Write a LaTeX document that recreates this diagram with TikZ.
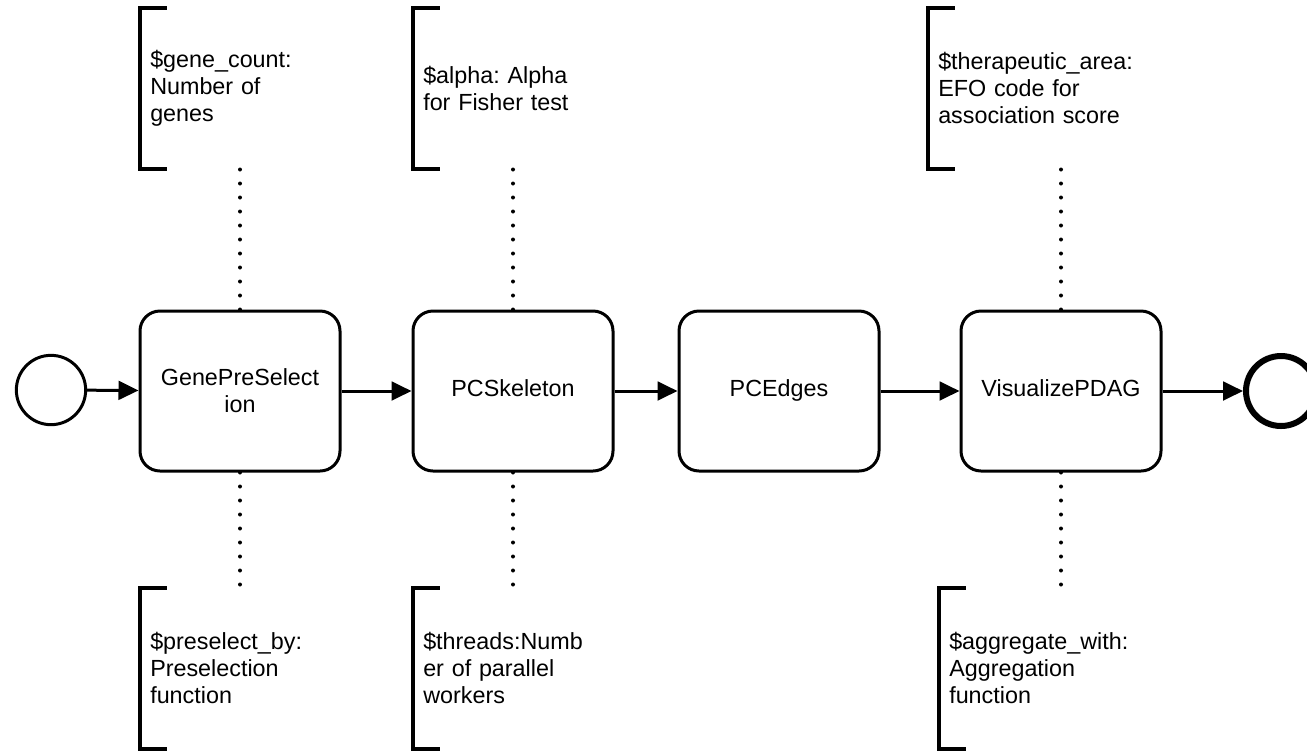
\documentclass[tikz,border=0pt]{standalone}
\usepackage{fontspec}
\setmainfont{Liberation Sans}
\usetikzlibrary{arrows.meta}
\frenchspacing
\begin{document}
\begin{tikzpicture}[x=0.75pt,y=-0.75pt,
  every node/.style={font=\fontsize{17.5}{20.25}\selectfont},
  task/.style={draw,line width=2.25pt,rounded corners=15pt,minimum width=150pt,minimum height=120pt,align=center,inner sep=0pt},
  oneline/.style={text height=12.5pt,text depth=3.7pt},
  startev/.style={draw,circle,line width=2.25pt,minimum size=52pt,inner sep=0pt},
  endev/.style={draw,circle,line width=4.5pt,minimum size=52.5pt,inner sep=0pt},
  flow/.style={line width=2.25pt,-{Triangle[length=15pt,width=14pt]}},
  annot/.style={minimum height=120pt,inner xsep=7.5pt,inner ysep=0pt,text width=155pt,align=left},
  bracket/.style={line width=3pt},
  assoc/.style={line width=3pt,line cap=round,dash pattern=on 0pt off 10.5pt}
]
\useasboundingbox (0,0) rectangle (1307,751);

% events and tasks
\node[startev] (start) at (51,390) {};
\node[task] (t1) at (240,391) {GenePreSelect\\ion};
\node[task,oneline] (t2) at (513,391) {PCSkeleton};
\node[task,oneline] (t3) at (779,391) {PCEdges};
\node[task,oneline] (t4) at (1061,391) {VisualizePDAG};
\node[endev] (end) at (1281,391) {};

% sequence flows
\draw[flow] (start) -- (t1);
\draw[flow] (t1) -- (t2);
\draw[flow] (t2) -- (t3);
\draw[flow] (t3) -- (t4);
\draw[flow] (t4) -- (end);

% text annotations
\node[annot,anchor=north west] (a1) at (140,8) {\$gene\_count:\\Number of\\genes};
\node[annot,anchor=north west] (a2) at (413,8) {\$alpha: Alpha\\for Fisher test};
\node[annot,anchor=north west] (a4) at (928,8) {\$therapeutic\_area:\\EFO code for\\association score};
\node[annot,anchor=north west] (b1) at (140,588) {\$preselect\_by:\\Preselection\\function};
\node[annot,anchor=north west] (b2) at (413,588) {\$threads:Numb\\er of parallel\\workers};
\node[annot,anchor=north west] (b4) at (939,588) {\$aggregate\_with:\\Aggregation\\function};

% annotation brackets
\foreach \a in {a1,a2,a4,b1,b2,b4}{
  \draw[bracket] ([xshift=20]\a.north west) -- (\a.north west) -- (\a.south west) -- ([xshift=20]\a.south west);
}

% associations
\draw[assoc] (t1.north) -- (t1.north |- a1.south);
\draw[assoc] (t2.north) -- (t2.north |- a2.south);
\draw[assoc] (t4.north) -- (t4.north |- a4.south);
\draw[assoc] (t1.south) -- ([yshift=-3]t1.south |- b1.north);
\draw[assoc] (t2.south) -- ([yshift=-3]t2.south |- b2.north);
\draw[assoc] (t4.south) -- ([yshift=-3]t4.south |- b4.north);
\end{tikzpicture}
\end{document}
